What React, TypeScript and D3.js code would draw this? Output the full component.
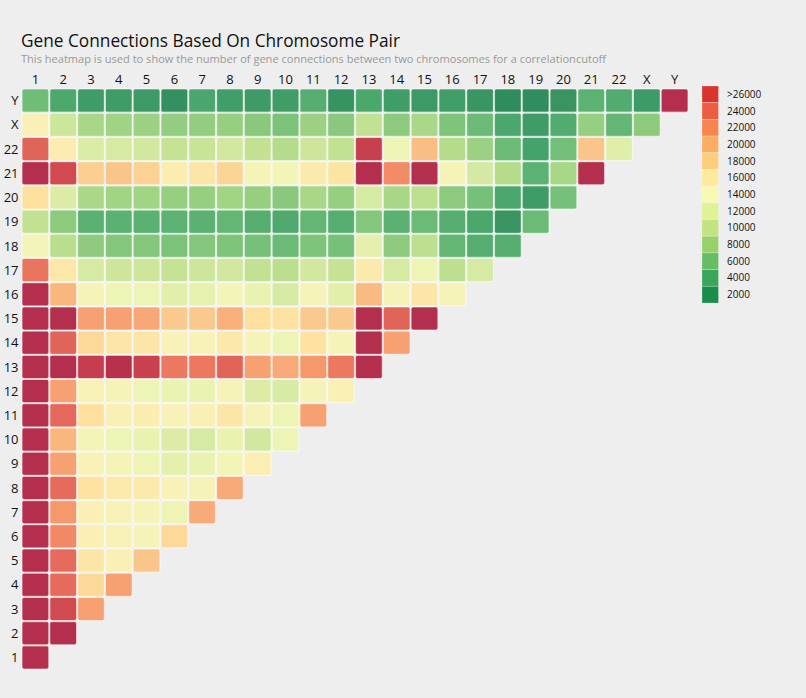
import React, { useEffect } from "react";
import * as d3 from "d3";

const chromosomes = ["1","2","3","4","5","6","7","8","9","10","11","12","13","14","15","16","17","18","19","20","21","22","X","Y"];

// connections[i] = row for chromosomes[i], columns 1..i+1
const connections: number[][] = [
  [31000],
  [31000, 31500],
  [31000, 26500, 21500],
  [31000, 24000, 17500, 21500],
  [31000, 24000, 16500, 15500, 19000],
  [31000, 22600, 15500, 15000, 14600, 17500],
  [31000, 22000, 15500, 15000, 14600, 13800, 20800],
  [31000, 24000, 16800, 16200, 16200, 15000, 14600, 20800],
  [31000, 21500, 15000, 14600, 13800, 13200, 13500, 14300, 15600],
  [31000, 20000, 14300, 13800, 13500, 12600, 12300, 13500, 12000, 13800],
  [31000, 24200, 17000, 15500, 16000, 15000, 15500, 16500, 14600, 13800, 21500],
  [31000, 21500, 15000, 14600, 13800, 13600, 13600, 14600, 12600, 12400, 14600, 15500],
  [31000, 31500, 28500, 30500, 27800, 23300, 23300, 24500, 21500, 20800, 22000, 23300, 31000],
  [31000, 24500, 17500, 16500, 16500, 15000, 15000, 16300, 14600, 13800, 16800, 14600, 31000, 21500],
  [31000, 31500, 21500, 21500, 21000, 18700, 18700, 20500, 17000, 16800, 18700, 18700, 31000, 24500, 31000],
  [31000, 20000, 14600, 13800, 13800, 13000, 13300, 14300, 13500, 12300, 14600, 13000, 19700, 14600, 16500, 14600],
  [23500, 16400, 12300, 11600, 11600, 11000, 11600, 12000, 10800, 10500, 12000, 11000, 16200, 12300, 13800, 10600, 12300],
  [14300, 10400, 8000, 7500, 7500, 7200, 7500, 7300, 6900, 6300, 7300, 6900, 13200, 8000, 10600, 5800, 5000, 5000],
  [10800, 8000, 5300, 5300, 5300, 5400, 5300, 5800, 5000, 4600, 5800, 5000, 7500, 5300, 6300, 5000, 4400, 2900, 6300],
  [17000, 12600, 9700, 9100, 9100, 8500, 8500, 9100, 8500, 7800, 9500, 8500, 12300, 9500, 10600, 8000, 6900, 4400, 3500, 6900],
  [31000, 26500, 18300, 19000, 18000, 16000, 16500, 17800, 14500, 14300, 16200, 16700, 31000, 22500, 31000, 14700, 12200, 10200, 5400, 9500, 31000],
  [24500, 16000, 12500, 12300, 12000, 11000, 11200, 12000, 10800, 10200, 11600, 10800, 28000, 13800, 19500, 10200, 8800, 6300, 4000, 6700, 19000, 12800],
  [15500, 11500, 9500, 9000, 8800, 8300, 8300, 8500, 7800, 7200, 8800, 7800, 10800, 8000, 9700, 7300, 6300, 4400, 3500, 4800, 8500, 5800, 8000],
  [6500, 4500, 3500, 3500, 3300, 2500, 4300, 3700, 3400, 3600, 5000, 2800, 4400, 3600, 3300, 3700, 3000, 2200, 2300, 2900, 5400, 4800, 3400, 32000],
];

const colorStops = [2000, 3000, 4000, 5000, 6000, 7000, 8000, 9000, 10000, 11000, 12000, 13000, 14000, 15000, 16000, 17000, 18000, 19000, 20000, 21000, 22000, 23000, 24000, 26000, 28000, 31000];
const colorValues = ["#2e8a5c", "#3a9563", "#45a26a", "#55ae70", "#66b874", "#78c179", "#8dca7e", "#a0d384", "#b0da89", "#c6e395", "#d2e8a0", "#e2efaa", "#f0f5b8", "#f8f2b8", "#fbecb0", "#fde09d", "#fbd294", "#fac58a", "#f9b77e", "#f8a877", "#f5986c", "#ee7e62", "#e66b5c", "#d24d4f", "#c8404e", "#b42e4d"];

const legendLabels = [">26000", "24000", "22000", "20000", "18000", "16000", "14000", "12000", "10000", "8000", "6000", "4000", "2000"];
const legendColors = ["#d7352d", "#ec5e41", "#f6854f", "#fdad61", "#fecd7d", "#feea9c", "#f8f8b4", "#e0f296", "#c1e381", "#97d169", "#67bd63", "#3aa659", "#1a8c4c"];

const W = 806;
const H = 698;
const FONT = "'Segoe UI', 'Open Sans', 'Noto Sans', sans-serif";

export default function App() {
  useEffect(() => {
    document.body.style.margin = "0";
    document.body.style.background = "#eeeeee";
  }, []);

  const x = d3.scaleBand<string>().domain(chromosomes).range([21.5, 688.5]);
  const y = d3.scaleBand<string>().domain([...chromosomes].reverse()).range([88.5, 669.5]);
  const color = d3.scaleLinear<string>().domain(colorStops).range(colorValues).interpolate(d3.interpolateRgb).clamp(true);

  const cells: { row: string; col: string; v: number }[] = [];
  connections.forEach((rowVals, i) => {
    rowVals.forEach((v, j) => {
      cells.push({ row: chromosomes[i], col: chromosomes[j], v });
    });
  });

  const legendY = d3.scaleBand<string>().domain(legendLabels).range([86, 303]);

  return (
    <svg width={W} height={H} style={{ display: "block", background: "#eeeeee" }}>
      <rect x={0} y={0} width={W} height={H} fill="#eeeeee" />
      <text x={21} y={47} fontFamily={FONT} fontSize={18.5} fill="#111" textLength={379} lengthAdjust="spacingAndGlyphs">
        Gene Connections Based On Chromosome Pair
      </text>
      <text x={21} y={63} fontFamily={FONT} fontSize={11} fill="#999" textLength={585} lengthAdjust="spacingAndGlyphs">
        This heatmap is used to show the number of gene connections between two chromosomes for a correlationcutoff
      </text>
      {chromosomes.map((c) => (
        <text key={"t" + c} x={(x(c) as number) + x.bandwidth() / 2} y={84} textAnchor="middle" fontFamily={FONT} fontSize={13} fill="#111">
          {c}
        </text>
      ))}
      {chromosomes.map((c) => (
        <text key={"l" + c} x={18.5} y={(y(c) as number) + y.bandwidth() / 2} dy="0.36em" textAnchor="end" fontFamily={FONT} fontSize={13} fill="#111">
          {c}
        </text>
      ))}
      {cells.map((d) => (
        <rect
          key={d.row + "-" + d.col}
          x={(x(d.col) as number) + 0.5}
          y={(y(d.row) as number) + 0.5}
          width={x.bandwidth() - 1}
          height={y.bandwidth() - 1}
          rx={2}
          ry={2}
          fill={color(d.v)}
          stroke="#ffffff"
          strokeOpacity={0.55}
          strokeWidth={1.2}
        />
      ))}
      {legendLabels.map((l, i) => (
        <g key={"lg" + l}>
          <rect x={702} y={legendY(l) as number} width={16.5} height={legendY.bandwidth()} fill={legendColors[i]} stroke="#ffffff" strokeOpacity={0.3} strokeWidth={0.8} />
          <text x={727} y={(legendY(l) as number) + legendY.bandwidth() / 2} dy="0.35em" fontFamily={FONT} fontSize={10} fill="#111">
            {l}
          </text>
        </g>
      ))}
    </svg>
  );
}
